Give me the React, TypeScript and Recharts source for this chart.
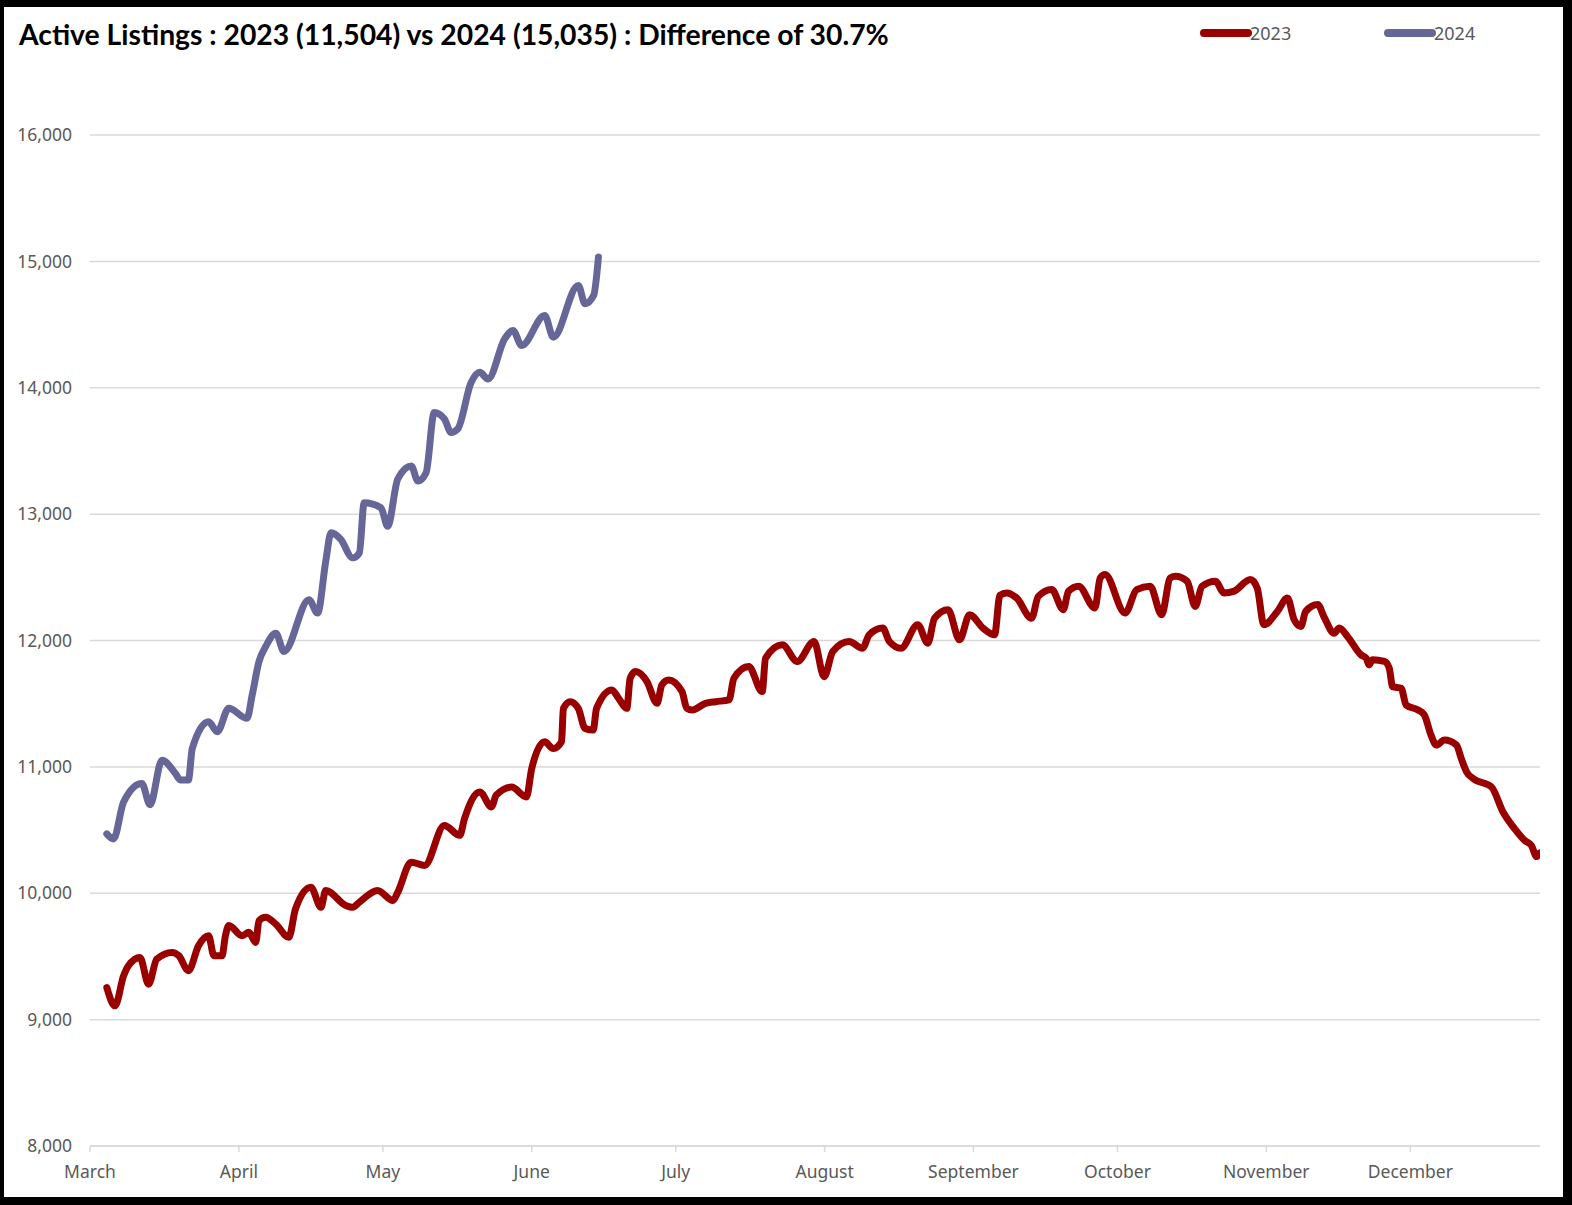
import React from 'react';
import { LineChart, Line, XAxis, YAxis, CartesianGrid } from 'recharts';

// days counted from March 1
const monthTicks = [0, 31, 61, 92, 122, 153, 184, 214, 245, 275];
const monthNames = ['March', 'April', 'May', 'June', 'July', 'August', 'September', 'October', 'November', 'December'];
const yTicks = [8000, 9000, 10000, 11000, 12000, 13000, 14000, 15000, 16000];

const day2024 = [
  3.5, 4.9, 7.0, 10.8, 12.5, 15.0, 17.8, 18.8, 20.5, 21.3, 24.7, 26.5, 28.9, 32.7, 33.8, 35.2, 36.6, 38.7,
  40.4, 45.6, 47.4, 49.1, 50.2, 52.2, 54.7, 56.1, 57.1, 60.6, 62.0, 64.1, 66.9, 68.3, 70.0, 71.7, 73.8,
  75.2, 76.6, 79.4, 81.2, 82.9, 86.4, 88.1, 89.9, 94.7, 96.5, 101.7, 103.1, 104.9, 105.9,
];
const val2024 = [
  10470, 10430, 10722, 10868, 10700, 11053, 10947, 10897, 10897, 11146, 11357, 11278, 11463, 11384, 11572, 11834, 11953, 12058,
  11913, 12323, 12217, 12627, 12852, 12802, 12654, 12693, 13090, 13050, 12905, 13278, 13381, 13262, 13328, 13804, 13754,
  13646, 13675, 14043, 14122, 14069, 14389, 14453, 14334, 14572, 14400, 14810, 14665, 14731, 15035,
];

const day2023 = [
  3.5, 5.2, 7.0, 8.0, 10.4, 12.2, 13.9, 17.1, 18.5, 20.5, 22.6, 24.7, 25.8, 27.5, 28.2, 28.9, 31.7, 33.1, 34.5, 35.2,
  36.6, 38.7, 41.4, 42.8, 46.0, 48.1, 49.1, 53.3, 54.7, 56.1, 59.9, 63.1, 64.1, 66.9, 69.7, 73.8, 77.0, 78.0, 81.2, 83.6,
  84.6, 87.8, 90.9, 92.0, 94.7, 96.5, 98.2, 98.6, 100.0, 101.7, 103.1, 104.8, 105.5, 108.7, 110.1, 111.8, 112.5, 113.6, 116.0, 118.1,
  119.1, 120.5, 123.3, 124.3, 125.4, 128.2, 130.3, 133.1, 134.1, 137.2, 140.0, 140.7, 144.2, 147.3, 150.8, 152.9, 154.7, 158.1, 160.9, 162.3,
  165.1, 166.5, 168.9, 172.4, 174.5, 175.9, 178.7, 181.1, 183.2, 186.0, 188.4, 189.5, 190.9, 193.0, 196.1, 197.5, 200.3, 202.7, 203.8, 205.9,
  209.3, 210.4, 211.4, 215.6, 218.0, 220.8, 223.2, 225.0, 226.1, 228.5, 230.2, 231.6, 234.4, 236.2, 238.2, 241.7, 243.1, 244.5, 247.3, 249.4,
  250.8, 252.2, 253.2, 255.7, 257.1, 259.1, 260.2, 261.9, 264.7, 265.8, 266.4, 267.1, 269.6, 270.6, 271.3, 273.1, 274.1, 276.6, 277.9, 279.3,
  280.4, 282.1, 284.6, 285.6, 286.7, 288.1, 291.9, 294.3, 296.7, 298.8, 300.2, 301.3, 302.0,
];
const val2023 = [
  9254, 9109, 9347, 9426, 9492, 9280, 9479, 9532, 9506, 9387, 9585, 9664, 9506, 9506, 9664, 9744, 9664, 9691, 9611, 9783,
  9810, 9756, 9651, 9876, 10048, 9889, 10022, 9903, 9889, 9929, 10022, 9942, 10008, 10246, 10220, 10537, 10458, 10590, 10802, 10683,
  10776, 10840, 10762, 10987, 11199, 11145, 11199, 11463, 11516, 11463, 11304, 11291, 11463, 11609, 11542, 11463, 11701, 11754, 11675, 11503,
  11649, 11688, 11596, 11463, 11450, 11503, 11516, 11530, 11701, 11794, 11596, 11860, 11966, 11834, 11992, 11714, 11913, 11992, 11939, 12046,
  12098, 11992, 11939, 12125, 11979, 12177, 12244, 12006, 12204, 12098, 12045, 12357, 12376, 12336, 12177, 12349, 12403, 12244, 12389, 12429,
  12257, 12495, 12522, 12217, 12403, 12429, 12204, 12495, 12508, 12469, 12270, 12429, 12469, 12376, 12389, 12482, 12415, 12125, 12230, 12336,
  12164, 12111, 12230, 12284, 12180, 12058, 12098, 12032, 11887, 11860, 11807, 11847, 11834, 11781, 11635, 11622, 11490, 11450, 11411, 11252,
  11173, 11212, 11173, 11066, 10961, 10907, 10841, 10643, 10511, 10418, 10379, 10290, 10320,
];

const rows2023 = day2023.map((day, i) => ({ day, value: val2023[i] }));
const rows2024 = day2024.map((day, i) => ({ day, value: val2024[i] }));

const RED = '#990000';
const PURPLE = '#666699';
const TEXT = '#595959';
const GRID = '#d9d9d9';
const FONT = '"Noto Sans", sans-serif';

const LegendItem = ({ left, color, label }: { left: number; color: string; label: string }) => (
  <div style={{ position: 'absolute', left, top: 21, display: 'flex', alignItems: 'center' }}>
    <svg width={52} height={24}>
      <line x1={4} y1={12} x2={48} y2={12} stroke={color} strokeWidth={8} strokeLinecap="round" />
    </svg>
    <span style={{ fontFamily: FONT, fontSize: 18, color: TEXT, marginLeft: -2 }}>{label}</span>
  </div>
);

const App: React.FC = () => {
  return (
    <div style={{ position: 'absolute', left: 0, top: 0, width: 1572, height: 1205, background: '#000' }}>
      <div style={{ position: 'absolute', left: 4, top: 7, width: 1559, height: 1190, background: '#fff' }} />
      <div
        style={{
          position: 'absolute',
          left: 19,
          top: 17,
          fontFamily: 'Lato, sans-serif',
          fontWeight: 700,
          fontSize: 28.3,
          color: '#000',
          whiteSpace: 'nowrap',
        }}
      >
        Active Listings : 2023 (11,504) vs 2024 (15,035) : Difference of 30.7%
      </div>
      <LegendItem left={1200} color={RED} label="2023" />
      <LegendItem left={1384} color={PURPLE} label="2024" />
      <div style={{ position: 'absolute', left: 0, top: 0 }}>
        <LineChart
          width={1572}
          height={1205}
          margin={{ top: 135, right: 32, bottom: 29, left: 0 }}
        >
          <CartesianGrid vertical={false} stroke={GRID} strokeWidth={1.5} />
          <XAxis
            dataKey="day"
            type="number"
            domain={[0, 302]}
            ticks={monthTicks}
            tickFormatter={(v: number) => monthNames[monthTicks.indexOf(v)] ?? ''}
            height={30}
            stroke={GRID}
            strokeWidth={1.5}
            tickSize={6}
            tickMargin={14}
            tick={{ fill: TEXT, fontSize: 17.5, fontFamily: FONT }}
            allowDataOverflow
          />
          <YAxis
            type="number"
            domain={[8000, 16000]}
            ticks={yTicks}
            width={90}
            axisLine={false}
            tickLine={false}
            tickSize={6}
            tickMargin={12}
            tickFormatter={(v: number) => v.toLocaleString('en-US')}
            tick={{ fill: TEXT, fontSize: 17.5, fontFamily: FONT }}
          />
          <Line
            data={rows2023}
            dataKey="value"
            type="monotone"
            stroke={RED}
            strokeWidth={7}
            dot={false}
            activeDot={false}
            strokeLinecap="round"
            strokeLinejoin="round"
            isAnimationActive={false}
          />
          <Line
            data={rows2024}
            dataKey="value"
            type="monotone"
            stroke={PURPLE}
            strokeWidth={7}
            dot={false}
            activeDot={false}
            strokeLinecap="round"
            strokeLinejoin="round"
            isAnimationActive={false}
          />
        </LineChart>
      </div>
    </div>
  );
};

export default App;
